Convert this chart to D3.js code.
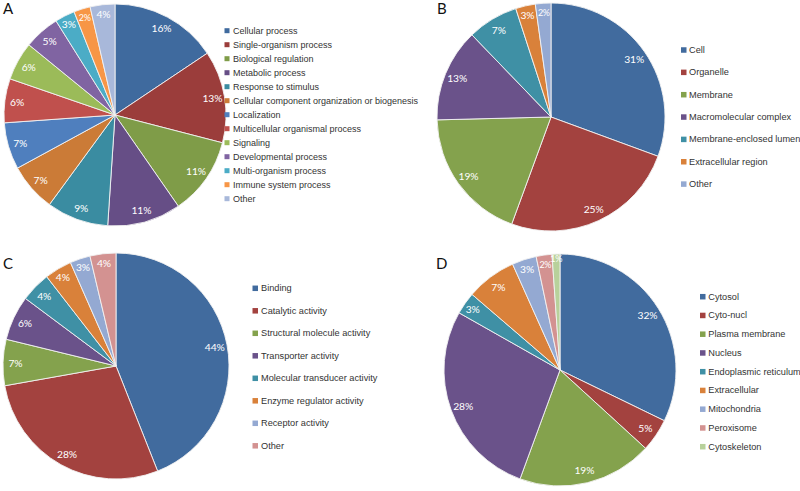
<!DOCTYPE html>
<html>
<head>
<meta charset="utf-8">
<script src="https://cdn.jsdelivr.net/npm/d3@7"></script>
<style>
  html, body { margin: 0; padding: 0; background: #fff; }
  svg { display: block; }
</style>
</head>
<body>
<svg id="chart" width="800" height="491"></svg>
<script>
// ---- Panel A: Biological process ----
const aCategories = ["Cellular process", "Single-organism process", "Biological regulation", "Metabolic process",
  "Response to stimulus", "Cellular component organization or biogenesis", "Localization",
  "Multicellular organismal process", "Signaling", "Developmental process", "Multi-organism process",
  "Immune system process", "Other"];
const aValues = [15.6, 13.4, 11.3, 10.7, 9.0, 7.0, 6.8, 6.4, 5.6, 5.2, 2.9, 2.4, 3.6];
const aColors = ["#3f6a9e", "#9b3d3b", "#7f9c48", "#664e86", "#3a8ca1", "#cb7b37", "#4f7fbe",
  "#c0504d", "#9bbb59", "#8064a2", "#4bacc6", "#f79646", "#a8b8da"];

// ---- Panel B: Cellular component ----
const bCategories = ["Cell", "Organelle", "Membrane", "Macromolecular complex", "Membrane-enclosed lumen",
  "Extracellular region", "Other"];
const bValues = [30.6, 25.0, 19.0, 13.2, 7.2, 2.8, 2.2];
const bColors = ["#416b9e", "#a3423f", "#84a24d", "#6a528a", "#3f90a5", "#d9813a", "#94a9d2"];

// ---- Panel C: Molecular function ----
const cCategories = ["Binding", "Catalytic activity", "Structural molecule activity", "Transporter activity",
  "Molecular transducer activity", "Enzyme regulator activity", "Receptor activity", "Other"];
const cValues = [44.0, 28.2, 6.6, 6.4, 4.3, 3.9, 2.9, 3.7];
const cColors = ["#416b9e", "#a3423f", "#84a24d", "#6a528a", "#3f90a5", "#d9813a", "#94a9d2", "#d39291"];

// ---- Panel D: Subcellular location ----
const dCategories = ["Cytosol", "Cyto-nucl", "Plasma membrane", "Nucleus", "Endoplasmic reticulum",
  "Extracellular", "Mitochondria", "Peroxisome", "Cytoskeleton"];
const dValues = [32.2, 4.6, 18.8, 27.6, 3.1, 7.0, 3.4, 2.2, 1.1];
const dColors = ["#416b9e", "#a3423f", "#84a24d", "#6a528a", "#3f90a5", "#d9813a", "#94a9d2", "#d39291", "#b8d19b"];

const panelLetters = ["A", "B", "C", "D"];

const svg = d3.select("#chart");

function drawPanel(opt) {
  const g = svg.append("g");
  const pie = d3.pie().sort(null).value(d => d.value);
  const arcs = pie(opt.categories.map((c, i) => ({ name: c, value: opt.values[i], color: opt.colors[i] })));
  const arc = d3.arc().innerRadius(0).outerRadius(opt.r);

  const pg = g.append("g").attr("transform", `translate(${opt.cx},${opt.cy})`);
  pg.selectAll("path").data(arcs).join("path")
    .attr("d", arc)
    .attr("fill", d => d.data.color)
    .attr("stroke", "#f2f2f2")
    .attr("stroke-width", 0.9)
    .attr("stroke-linejoin", "round");

  pg.selectAll("text").data(arcs).join("text")
    .attr("transform", d => {
      const a = (d.startAngle + d.endAngle) / 2;
      const k = d.data.value < 2 ? 0.96 : (d.data.value < 4 ? 0.92 : 0.89);
      const rr = opt.r * k;
      return `translate(${Math.sin(a) * rr},${-Math.cos(a) * rr})`;
    })
    .attr("text-anchor", "middle")
    .attr("dominant-baseline", "central")
    .attr("fill", "#fff")
    .attr("font-family", "Lato, 'Open Sans', sans-serif")
    .attr("font-size", d => d.data.value < 2.5 ? 9 : 10.3)
    .attr("letter-spacing", d => d.data.value < 2.5 ? -0.4 : -0.1)
    .text(d => Math.round(d.data.value) + "%");

  // legend
  const lg = g.append("g");
  const rows = lg.selectAll("g").data(arcs).join("g")
    .attr("transform", (d, i) => `translate(${opt.lx},${opt.ly + i * opt.lstep})`);
  rows.append("rect")
    .attr("x", 0).attr("y", -opt.ms / 2)
    .attr("width", opt.ms).attr("height", opt.ms)
    .attr("fill", d => d.data.color);
  rows.append("text")
    .attr("x", opt.tx)
    .attr("y", 0)
    .attr("dominant-baseline", "central")
    .attr("fill", "#333")
    .attr("font-family", "'Liberation Sans', Arial, sans-serif")
    .attr("font-size", opt.fs)
    .text(d => d.data.name);

  // panel letter
  g.append("text")
    .attr("x", opt.px).attr("y", opt.py)
    .attr("fill", "#111")
    .attr("font-family", "Lato, 'Open Sans', sans-serif")
    .attr("font-size", 15)
    .text(opt.letter);
}

drawPanel({ letter: panelLetters[0], categories: aCategories, values: aValues, colors: aColors,
  cx: 115, cy: 115, r: 111, lx: 224.5, ly: 30.7, lstep: 14, ms: 5, tx: 8.5, fs: 9, px: 3, py: 14 });
drawPanel({ letter: panelLetters[1], categories: bCategories, values: bValues, colors: bColors,
  cx: 551, cy: 117, r: 114, lx: 681, ly: 50, lstep: 22.35, ms: 5.5, tx: 8, fs: 9.2, px: 437, py: 14 });
drawPanel({ letter: panelLetters[2], categories: cCategories, values: cValues, colors: cColors,
  cx: 116, cy: 366, r: 113, lx: 252.5, ly: 288.3, lstep: 22.5, ms: 5.5, tx: 8.5, fs: 9.2, px: 3, py: 269 });
drawPanel({ letter: panelLetters[3], categories: dCategories, values: dValues, colors: dColors,
  cx: 560, cy: 370, r: 116, lx: 700, ly: 296.7, lstep: 18.75, ms: 5.5, tx: 8.3, fs: 9.2, px: 436, py: 269 });
</script>
</body>
</html>
